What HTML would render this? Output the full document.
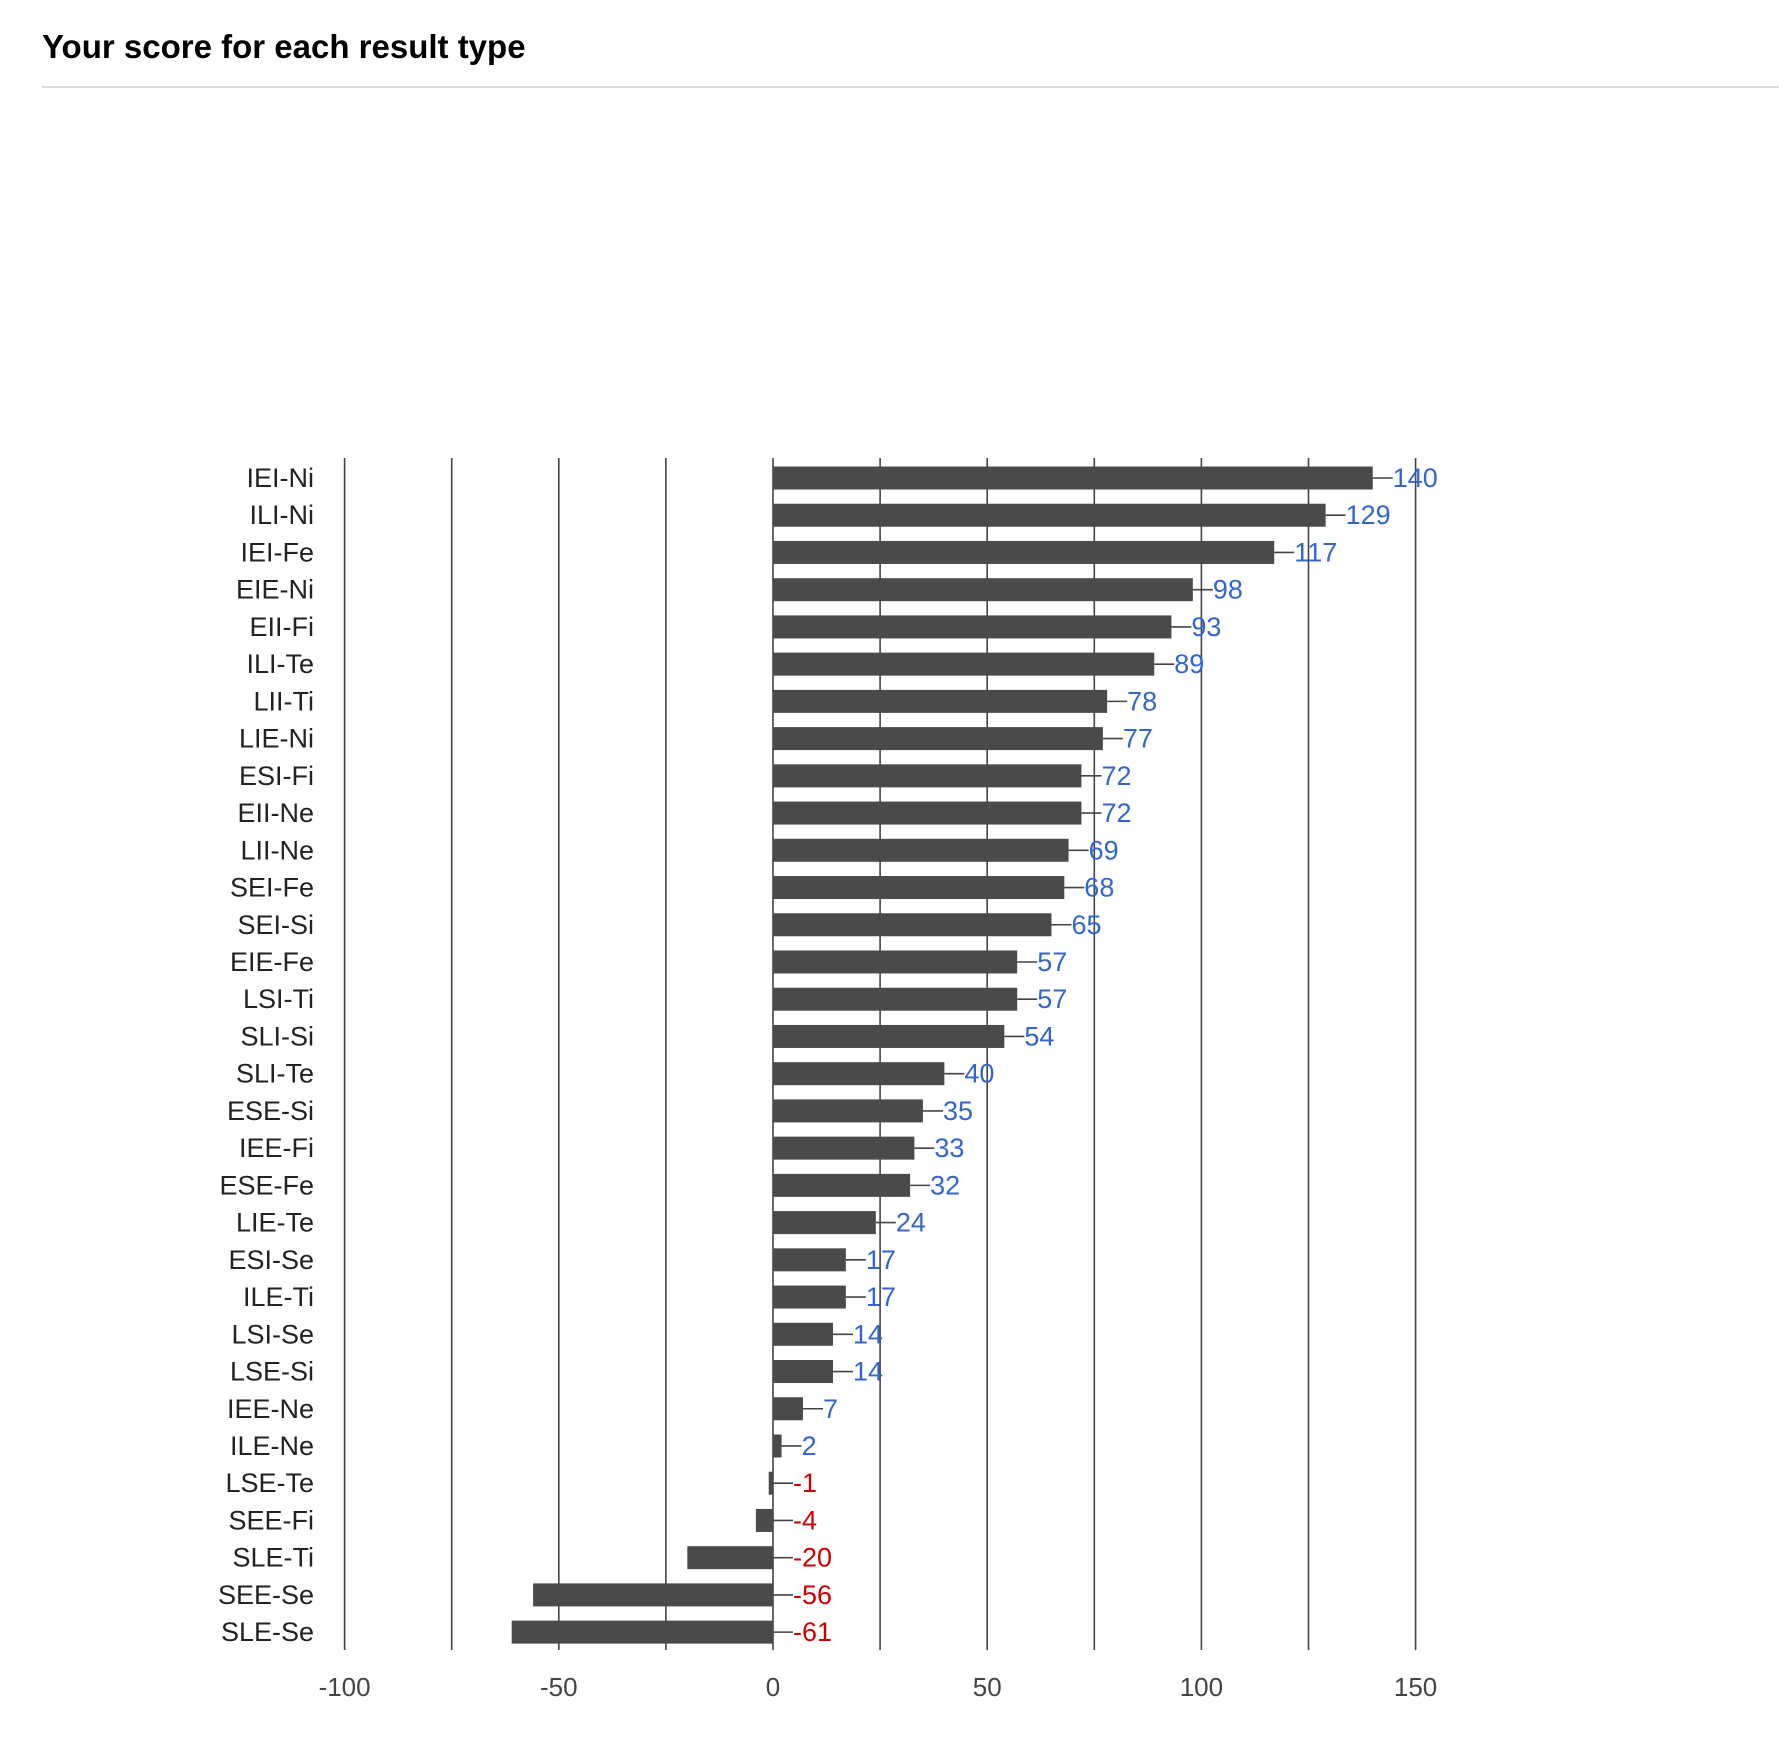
<!DOCTYPE html>
<html><head><meta charset="utf-8"><style>
body{margin:0;background:#fff;width:1779px;height:1764px;overflow:hidden;font-family:"Liberation Sans",Arial,sans-serif}
#title{position:absolute;left:42px;top:28px;font-size:33px;font-weight:bold;color:#000;margin:0}
#sep{position:absolute;left:42px;top:86px;width:1737px;height:2px;background:#ddd}
svg{position:absolute;left:0;top:0}
</style></head><body>
<h1 id="title">Your score for each result type</h1>
<div id="sep"></div>
<svg id="chart" width="1779" height="1764"></svg>
<script>
const categories=["IEI-Ni","ILI-Ni","IEI-Fe","EIE-Ni","EII-Fi","ILI-Te","LII-Ti","LIE-Ni","ESI-Fi","EII-Ne","LII-Ne","SEI-Fe","SEI-Si","EIE-Fe","LSI-Ti","SLI-Si","SLI-Te","ESE-Si","IEE-Fi","ESE-Fe","LIE-Te","ESI-Se","ILE-Ti","LSI-Se","LSE-Si","IEE-Ne","ILE-Ne","LSE-Te","SEE-Fi","SLE-Ti","SEE-Se","SLE-Se"];
const scores=[140,129,117,98,93,89,78,77,72,72,69,68,65,57,57,54,40,35,33,32,24,17,17,14,14,7,2,-1,-4,-20,-56,-61];
const gridValues=[-100,-75,-50,-25,0,25,50,75,100,125,150];
const tickLabels=["-100","-50","0","50","100","150"];
const tickValues=[-100,-50,0,50,100,150];
const NS="http://www.w3.org/2000/svg";
const svg=document.getElementById('chart');
const x0=773,ppu=4.284,rowTop=478,rowStep=37.23,barH=23,gridTop=458,gridBot=1650;
const xs=v=>x0+v*ppu, ys=i=>rowTop+i*rowStep;
function mk(t,a){const e=document.createElementNS(NS,t);for(const k in a)e.setAttribute(k,a[k]);svg.appendChild(e);return e;}
gridValues.forEach(v=>{
 const l=mk('line',{x1:xs(v),x2:xs(v),y1:gridTop,y2:gridBot,stroke:'#444','stroke-width':1.6});
 
 
});
tickValues.forEach((v,i)=>{
 const t=mk('text',{x:xs(v),y:1696,'text-anchor':'middle','font-size':26,fill:'#444'});
 t.textContent=tickLabels[i];
 
 
});
categories.forEach((c,i)=>{
 const y=ys(i),v=scores[i];
 const lab=mk('text',{x:314,y:y+9,'text-anchor':'end','font-size':27,fill:'#222'});
 lab.textContent=c;
 
 
 const bx=Math.min(xs(0),xs(v)),bw=Math.max(Math.abs(xs(v)-xs(0)),2);
 const b=mk('rect',{x:bx,y:y-barH/2,width:bw,height:barH,fill:'#4a4a4a'});
 
 
 const s=Math.max(xs(v),xs(0));
 const ln=mk('line',{x1:s,x2:s+20,y1:y,y2:y,stroke:'#444','stroke-width':1.6});
 
 
 const vt=mk('text',{x:s+20,y:y+9,'font-size':27,fill:v<0?'#cc0000':'#3366cc'});
 vt.textContent=String(v);
 
 
});
</script>
</body></html>
